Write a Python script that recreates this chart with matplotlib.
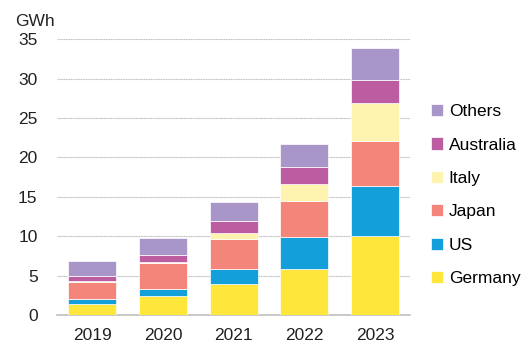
import matplotlib
matplotlib.use("Agg")
import matplotlib.pyplot as plt
import numpy as np

plt.rcParams["font.family"] = ["Liberation Sans", "DejaVu Sans"]

# Data (GWh)
years = ["2019", "2020", "2021", "2022", "2023"]
countries = ["Germany", "US", "Japan", "Italy", "Australia", "Others"]
germany = [1.4, 2.4, 3.95, 5.9, 10.0]
us = [0.6, 0.95, 1.95, 3.95, 6.4]
japan = [2.15, 3.2, 3.7, 4.65, 5.7]
italy = [0.15, 0.15, 0.75, 2.15, 4.85]
australia = [0.6, 0.95, 1.55, 2.1, 2.9]
others = [1.95, 2.15, 2.4, 2.95, 4.0]

series = [germany, us, japan, italy, australia, others]
colors = ["#FFE63B", "#129FDA", "#F3857A", "#FFF3B0", "#BC5DA1", "#A996C8"]

fig = plt.figure(figsize=(5.28, 3.56), dpi=100)
ax = fig.add_axes([0.108, 0.115, 0.669, 0.775])

x = np.arange(len(years))
bottom = np.zeros(len(years))
handles = []
for name, vals, col in zip(countries, series, colors):
    b = ax.bar(x, vals, 0.68, bottom=bottom, color=col, label=name,
               edgecolor="white", linewidth=0.5, zorder=3)
    handles.append(b)
    bottom += np.array(vals)

ax.set_xlim(-0.5, 4.5)
ax.set_ylim(0, 35)
ax.set_yticks(range(0, 36, 5))
ax.set_xticks(x)
ax.set_xticklabels(years)
ax.tick_params(axis="both", length=0, labelsize=12.5, colors="#222222")
ax.tick_params(axis="y", pad=14)
ax.tick_params(axis="x", pad=9)

ax.grid(axis="y", color="#bdbdbd", linewidth=0.8, linestyle=(0, (1, 0.5)), zorder=0)
for s in ["top", "right", "left"]:
    ax.spines[s].set_visible(False)
ax.spines["bottom"].set_color("#c0c0c0")
ax.spines["bottom"].set_linewidth(1.2)

fig.text(0.028, 0.94, "GWh", fontsize=12.5, color="#222222", va="center")

leg = ax.legend(handles[::-1], countries[::-1], loc="center left",
                bbox_to_anchor=(1.04, 0.435), frameon=False, fontsize=12.5,
                handlelength=0.7, handleheight=0.7, handletextpad=0.3,
                labelspacing=1.05, borderaxespad=0)

fig.savefig("out.png", dpi=100)
